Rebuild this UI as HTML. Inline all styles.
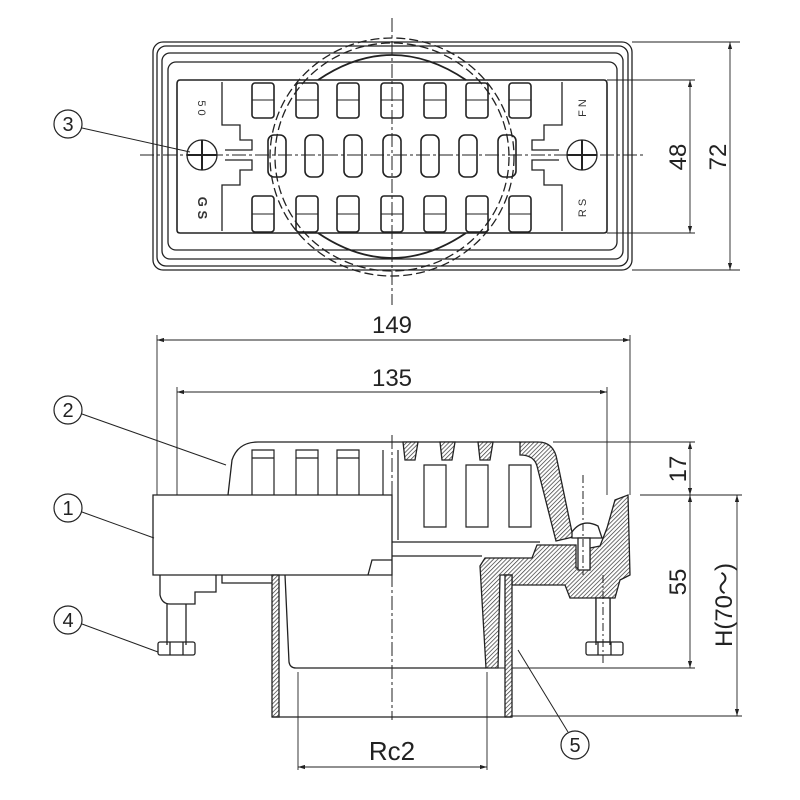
<!DOCTYPE html>
<html><head><meta charset="utf-8"><style>
html,body{margin:0;padding:0;background:#fff;}
svg{display:block;font-family:"Liberation Sans","Noto Sans CJK JP",sans-serif;}
</style></head><body>
<svg width="800" height="800" viewBox="0 0 800 800" xmlns="http://www.w3.org/2000/svg">
<defs>
<pattern id="h" width="3" height="3" patternUnits="userSpaceOnUse" patternTransform="rotate(45)">
<rect width="3" height="3" fill="#fff"/><line x1="0" y1="0" x2="0" y2="3" stroke="#333" stroke-width="1.4"/>
</pattern>
<marker id="a" viewBox="0 0 10 6" refX="10" refY="3" markerWidth="8" markerHeight="5" orient="auto-start-reverse"><path d="M0,0L10,3L0,6z" fill="#222"/></marker>
</defs>
<g fill="none" stroke="#222" stroke-width="1.3">
<!-- TOP VIEW -->
<rect x="153" y="42" width="479" height="228" rx="10"/>
<rect x="157" y="46" width="471" height="220" rx="9"/>
<rect x="162" y="53" width="461" height="206" rx="8"/>
<rect x="168" y="62" width="449" height="188" rx="8"/>
<path d="M180,80 H604 Q607,80 607,84 V230 Q607,233 604,233 H180 Q177,233 177,230 V84 Q177,80 180,80Z" stroke-width="1.6"/>
<path d="M222,82 V125 H240 V140 H252 V150 H225" />
<path d="M222,231 V185 H240 V170 H252 V160 H225" />
<path d="M562,82 V125 H544 V140 H532 V150 H559" />
<path d="M562,231 V185 H544 V170 H532 V160 H559" />
<g stroke-width="1.6">
<rect x="252" y="83" width="22" height="35" rx="3"/><rect x="296" y="83" width="22" height="35" rx="3"/><rect x="337" y="83" width="22" height="35" rx="3"/><rect x="381" y="83" width="22" height="35" rx="3"/><rect x="424" y="83" width="22" height="35" rx="3"/><rect x="466" y="83" width="22" height="35" rx="3"/><rect x="509" y="83" width="22" height="35" rx="3"/>
<rect x="252" y="196" width="22" height="36" rx="3"/><rect x="296" y="196" width="22" height="36" rx="3"/><rect x="337" y="196" width="22" height="36" rx="3"/><rect x="381" y="196" width="22" height="36" rx="3"/><rect x="424" y="196" width="22" height="36" rx="3"/><rect x="466" y="196" width="22" height="36" rx="3"/><rect x="509" y="196" width="22" height="36" rx="3"/>
<rect x="268" y="135" width="18" height="42" rx="6"/><rect x="305" y="135" width="18" height="42" rx="6"/><rect x="344" y="135" width="18" height="42" rx="6"/><rect x="383" y="135" width="18" height="42" rx="6"/><rect x="421" y="135" width="18" height="42" rx="6"/><rect x="459" y="135" width="18" height="42" rx="6"/><rect x="498" y="135" width="18" height="42" rx="6"/>
</g>
<g stroke-width="1">
<line x1="252" y1="100" x2="274" y2="100"/><line x1="296" y1="100" x2="318" y2="100"/><line x1="337" y1="100" x2="359" y2="100"/><line x1="381" y1="100" x2="403" y2="100"/><line x1="424" y1="100" x2="446" y2="100"/><line x1="466" y1="100" x2="488" y2="100"/><line x1="509" y1="100" x2="531" y2="100"/>
<line x1="252" y1="214" x2="274" y2="214"/><line x1="296" y1="214" x2="318" y2="214"/><line x1="337" y1="214" x2="359" y2="214"/><line x1="381" y1="214" x2="403" y2="214"/><line x1="424" y1="214" x2="446" y2="214"/><line x1="466" y1="214" x2="488" y2="214"/><line x1="509" y1="214" x2="531" y2="214"/>
</g>
<circle cx="202" cy="155" r="15"/><circle cx="582" cy="155" r="15"/>
<path d="M202,140V170M187,155H217M582,140V170M567,155H597" stroke-width="2"/>
<ellipse cx="392" cy="157" rx="122" ry="119" stroke-dasharray="9,4"/>
<ellipse cx="392" cy="157" rx="117" ry="114" stroke-dasharray="9,4"/>
<path d="M318,80 Q392,30 466,80 M318,233 Q392,283 466,233" stroke-width="1.8"/>
<line x1="392" y1="18" x2="392" y2="305" stroke-width="1" stroke-dasharray="14,3,3,3"/>
<line x1="140" y1="155" x2="645" y2="155" stroke-width="1" stroke-dasharray="14,3,3,3"/>
<g stroke-width="0.9">
<line x1="607" y1="80" x2="695" y2="80"/><line x1="607" y1="233" x2="695" y2="233"/>
<line x1="632" y1="42" x2="740" y2="42"/><line x1="632" y1="270" x2="740" y2="270"/>
<line x1="690" y1="80" x2="690" y2="233" marker-start="url(#a)" marker-end="url(#a)"/>
<line x1="730" y1="42" x2="730" y2="270" marker-start="url(#a)" marker-end="url(#a)"/>
<line x1="157" y1="335" x2="157" y2="495"/><line x1="630" y1="335" x2="630" y2="495"/>
<line x1="157" y1="340" x2="630" y2="340" marker-start="url(#a)" marker-end="url(#a)"/>
<line x1="177" y1="387" x2="177" y2="495"/><line x1="607" y1="387" x2="607" y2="495"/>
<line x1="177" y1="392" x2="607" y2="392" marker-start="url(#a)" marker-end="url(#a)"/>
<line x1="553" y1="442" x2="695" y2="442"/><line x1="640" y1="495" x2="742" y2="495"/>
<line x1="486" y1="668" x2="695" y2="668"/><line x1="512" y1="716" x2="742" y2="716"/>
<line x1="690" y1="442" x2="690" y2="495" marker-start="url(#a)" marker-end="url(#a)"/>
<line x1="690" y1="495" x2="690" y2="668" marker-start="url(#a)" marker-end="url(#a)"/>
<line x1="737" y1="495" x2="737" y2="716" marker-start="url(#a)" marker-end="url(#a)"/>
<line x1="298" y1="672" x2="298" y2="770"/><line x1="487" y1="672" x2="487" y2="770"/>
<line x1="298" y1="767" x2="487" y2="767" marker-start="url(#a)" marker-end="url(#a)"/>
</g>
<!-- SIDE VIEW grate -->
<path d="M228,495 L232,460 Q238,442 258,442 H520"/>
<g stroke-width="1.2">
<path d="M252,495V450H274V495M296,495V450H318V495M337,495V450H359V495"/>
<line x1="252" y1="458" x2="274" y2="458"/><line x1="296" y1="458" x2="318" y2="458"/><line x1="337" y1="458" x2="359" y2="458"/>
<path d="M383,495V450M398,540V450"/>
<path d="M424,527V465H446V527ZM466,527V465H488V527ZM509,527V465H531V527Z"/>
<line x1="392" y1="542" x2="540" y2="542"/>
</g>
<path d="M403,442H418L415,460H405Z M440,442H455L452,460H442Z M478,442H493L490,460H480Z" fill="url(#h)"/>
<path d="M520,442 H538 Q554,442 557,460 L573,537 L556,541 L537,466 Q534,455 520,455Z" fill="url(#h)"/>
<!-- body left -->
<path d="M153,495 H392 V575 H153 Z" fill="#fff"/>
<path d="M368,575 L372,560 H392"/>
<path d="M160,575 V595 Q162,604 170,604 H195 V592 H216 V575 M222,575 V583 H272"/>
<line x1="392" y1="556" x2="482" y2="556"/>
<!-- right body section -->
<path d="M480,566 L485,558 H532 L537,545 H576 V568 H590 V548 L600,546 L607,528 L615,500 L628,495 L630,575 L620,580 L615,598 L570,598 L565,585 H512 V575 H500 L498,668 H486 Z" fill="url(#h)"/>
<path d="M572,532 Q582,518 598,526 L602,538 H572Z" fill="#fff"/>
<rect x="578" y="538" width="12" height="32" fill="#fff"/>
<!-- pipe -->
<rect x="272" y="575" width="7" height="142" fill="url(#h)"/>
<rect x="505" y="575" width="7" height="142" fill="url(#h)"/>
<path d="M285,575 L289,662 Q290,668 296,668 H486"/>
<line x1="272" y1="717" x2="512" y2="717"/>
<!-- bolts -->
<path d="M167,604V645M186,604V645"/>
<rect x="158" y="642" width="37" height="13" rx="2"/>
<line x1="170" y1="642" x2="170" y2="655"/><line x1="183" y1="642" x2="183" y2="655"/>
<path d="M596,598V645M610,598V645" fill="#fff"/>
<rect x="596" y="598" width="14" height="44" fill="#fff"/>
<rect x="586" y="642" width="37" height="13" rx="2"/>
<line x1="598" y1="642" x2="598" y2="655"/><line x1="611" y1="642" x2="611" y2="655"/>
<line x1="583" y1="475" x2="583" y2="575" stroke-width="1" stroke-dasharray="8,3,2,3"/>
<line x1="603" y1="575" x2="603" y2="663" stroke-width="1" stroke-dasharray="8,3,2,3"/>
<line x1="392" y1="435" x2="392" y2="720" stroke-width="1" stroke-dasharray="14,3,3,3"/>
<g stroke-width="1">
<line x1="82" y1="128" x2="190" y2="152"/>
<line x1="82" y1="414" x2="226" y2="465"/>
<line x1="82" y1="512" x2="154" y2="538"/>
<line x1="82" y1="624" x2="158" y2="652"/>
<line x1="568" y1="732" x2="518" y2="650"/>
</g>
</g>
<g fill="#fff" stroke="#222" stroke-width="1.2">
<circle cx="68" cy="124" r="14"/><circle cx="68" cy="410" r="14"/><circle cx="68" cy="508" r="14"/><circle cx="68" cy="620" r="14"/><circle cx="575" cy="745" r="14"/>
</g>
<g fill="#222" font-size="20" text-anchor="middle">
<text x="68" y="131">3</text><text x="68" y="417">2</text><text x="68" y="515">1</text><text x="68" y="627">4</text><text x="575" y="752">5</text>
<text x="392" y="333" font-size="24">149</text>
<text x="392" y="386" font-size="24">135</text>
<text x="392" y="760" font-size="26">Rc2</text>
<text transform="translate(686,157) rotate(-90)" font-size="24">48</text>
<text transform="translate(726,157) rotate(-90)" font-size="24">72</text>
<text transform="translate(686,469) rotate(-90)" font-size="24">17</text>
<text transform="translate(686,582) rotate(-90)" font-size="24">55</text>
<text transform="translate(732,605) rotate(-90)" font-size="24">H(70～)</text>
</g>
<g fill="#333" font-size="11" text-anchor="middle">
<text transform="translate(198,108) rotate(90)">5 0</text>
<text transform="translate(198,208) rotate(90)" font-weight="bold" font-size="13">G S</text>
<text transform="translate(586,108) rotate(-90)">F N</text>
<text transform="translate(586,208) rotate(-90)">R S</text>
</g>
</svg>
</body></html>
